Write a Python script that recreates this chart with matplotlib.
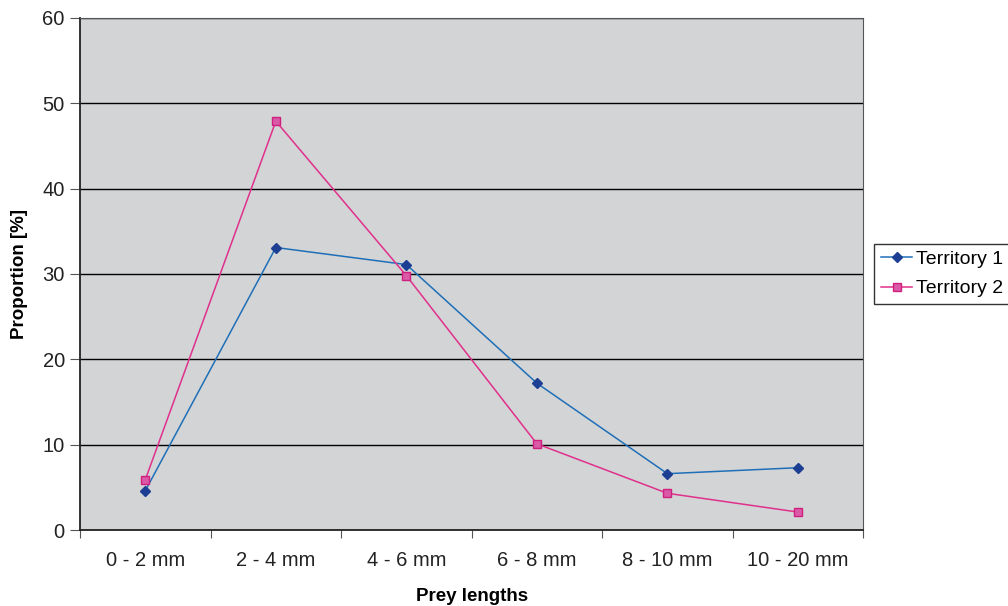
import numpy as np
import matplotlib.pyplot as plt

categories = ["0 - 2 mm", "2 - 4 mm", "4 - 6 mm", "6 - 8 mm", "8 - 10 mm", "10 - 20 mm"]
territory1 = [4.6, 33.1, 31.1, 17.2, 6.6, 7.3]
territory2 = [5.9, 47.9, 29.8, 10.1, 4.3, 2.1]

plt.rcParams['font.family'] = ['Liberation Sans', 'DejaVu Sans']

fig = plt.figure(figsize=(10.08, 6.06), dpi=100)
ax = fig.add_axes([0.0794, 0.1254, 0.777, 0.845])
ax.set_facecolor('#d3d4d6')

x = np.arange(len(categories))
ax.plot(x, territory1, color='#1f6fb8', lw=1.1, marker='D', ms=5,
        mfc='#1d3f93', mec='#1d3f93', label='Territory 1', zorder=3)
ax.plot(x, territory2, color='#e0308c', lw=1.1, marker='s', ms=6,
        mfc='#da5aa8', mec='#d0207f', mew=1, label='Territory 2', zorder=3)

ax.set_xlim(-0.5, len(categories) - 0.5)
ax.set_ylim(0, 60)
ax.set_yticks(range(0, 61, 10))
ax.yaxis.grid(True, color='black', lw=1)
ax.set_axisbelow(True)

ax.set_xticks(np.arange(-0.5, len(categories), 1.0))
ax.set_xticklabels([])
ax.set_xticks(x, minor=True)
ax.set_xticklabels(categories, minor=True)
ax.tick_params(axis='x', which='minor', length=0, pad=15, labelsize=14.5, colors='#222222')
ax.tick_params(axis='x', which='major', length=6, color='#555555')
ax.tick_params(axis='y', length=7, pad=4, color='#555555', labelsize=14.5, labelcolor='#222222')

for s in ['top', 'right']:
    ax.spines[s].set_color('#555555')
for s in ['left', 'bottom']:
    ax.spines[s].set_color('#222222')
    ax.spines[s].set_linewidth(1.3)

ax.set_xlabel('Prey lengths', fontsize=13.5, fontweight='bold', labelpad=13)
ax.set_ylabel('Proportion [%]', fontsize=13.5, fontweight='bold', labelpad=10)

leg = ax.legend(loc='center left', bbox_to_anchor=(1.014, 0.5), fontsize=14,
                frameon=True, fancybox=False, borderpad=0.35, handlelength=1.6,
                handletextpad=0.2, labelspacing=0.6, borderaxespad=0)
leg.get_frame().set_edgecolor('black')
leg.get_frame().set_linewidth(1)

fig.savefig('out.png', dpi=100)
